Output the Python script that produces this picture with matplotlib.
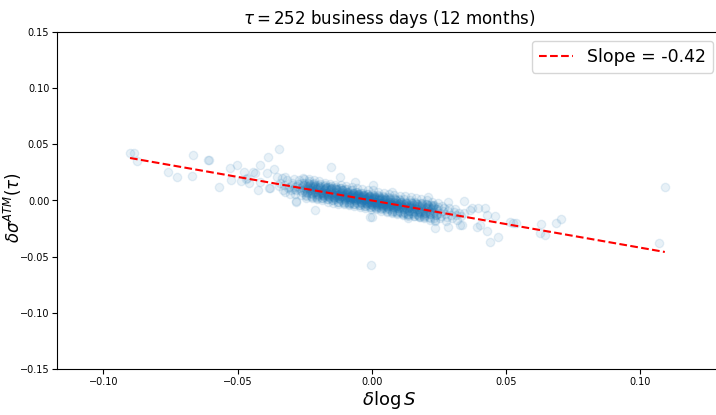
import matplotlib
matplotlib.use('Agg')
import matplotlib.pyplot as plt

# fitted regression of vol changes on log-return
slope = -0.42
intercept = 0.0

# isolated points away from the main cloud (dlogS, dsigma)
tail_pts = [
    (-0.0901, 0.0420), (-0.0886, 0.0420), (-0.0876, 0.0351), (-0.0666, 0.0405),
    (-0.0612, 0.0362), (-0.0608, 0.0357), (-0.0759, 0.0251), (-0.0725, 0.0206),
    (-0.0670, 0.0218), (-0.0571, 0.0117), (-0.0529, 0.0286), (-0.0504, 0.0316),
    (-0.0525, 0.0182), (-0.0489, 0.0171), (-0.0477, 0.0256), (-0.0444, 0.0256),
    (-0.0417, 0.0316), (-0.0386, 0.0390), (-0.0392, 0.0242), (-0.0365, 0.0280),
    (-0.0467, 0.0198), (-0.0469, 0.0195), (-0.0457, 0.0153), (-0.0426, 0.0093),
    (-0.0417, 0.0167), (-0.0384, 0.0114), (-0.0355, 0.0212), (-0.0436, 0.0242),
    (-0.0345, 0.0458), (-0.0284, -0.0004), (-0.0153, 0.0295), (-0.0119, 0.0212),
    (-0.0063, 0.0167), (-0.0212, -0.0085), (-0.0283, -0.0011), (-0.0380, 0.0109),
    (-0.0001, -0.0149), (0.0005, 0.0138), (0.0073, 0.0078), (0.0210, 0.0034),
    (0.0247, -0.0025), (0.0284, -0.0011), (0.0344, -0.0002), (0.0365, -0.0085),
    (0.0396, -0.0069), (0.0235, -0.0247), (0.0284, -0.0238), (0.0328, -0.0218),
    (0.0390, -0.0233), (-0.0007, -0.0144), (0.0135, -0.0158), (0.0179, -0.0144),
    (0.0371, -0.0069), (0.0421, -0.0069), (0.0458, -0.0135), (0.0427, -0.0129),
    (0.0402, -0.0218), (0.0427, -0.0269), (0.0470, -0.0322), (0.0439, -0.0367),
    (0.0514, -0.0189), (0.0536, -0.0198), (0.0628, -0.0209), (0.0626, -0.0292),
    (0.0644, -0.0307), (0.0685, -0.0203), (0.0703, -0.0167), (0.1070, -0.0381),
    (0.1091, 0.0117), (-0.0004, -0.0574), (0.0336, -0.0218), (0.0525, -0.0198),
]

# dense cloud around zero, read column by column
cloud_pts = [
    (-0.0341, 0.016), (-0.0330, 0.009), (-0.0336, 0.020), (-0.0346, 0.013),
    (-0.0327, 0.014), (-0.0316, 0.018), (-0.0322, 0.008), (-0.0312, 0.011), (-0.0325, 0.021),
    (-0.0307, 0.012), (-0.0296, 0.016), (-0.0302, 0.009), (-0.0292, 0.019), (-0.0305, 0.006), (-0.0299, 0.014),
    (-0.0287, 0.012), (-0.0276, 0.015), (-0.0282, 0.009), (-0.0272, 0.018), (-0.0285, 0.006), (-0.0279, 0.013),
    (-0.0289, 0.010),
    (-0.0267, 0.011), (-0.0256, 0.014), (-0.0262, 0.008), (-0.0252, 0.016), (-0.0265, 0.005), (-0.0259, 0.012),
    (-0.0269, 0.009), (-0.0254, 0.019),
    (-0.0247, 0.010), (-0.0236, 0.013), (-0.0242, 0.007), (-0.0232, 0.015), (-0.0245, 0.004), (-0.0239, 0.011),
    (-0.0249, 0.008), (-0.0234, 0.017), (-0.0243, 0.012), (-0.0231, 0.009),
    (-0.0227, 0.009), (-0.0216, 0.012), (-0.0222, 0.006), (-0.0212, 0.014), (-0.0225, 0.003), (-0.0219, 0.010),
    (-0.0229, 0.007), (-0.0214, 0.016), (-0.0223, 0.011), (-0.0211, 0.008), (-0.0220, 0.013),
    (-0.0207, 0.008), (-0.0196, 0.011), (-0.0202, 0.005), (-0.0192, 0.013), (-0.0205, 0.002), (-0.0199, 0.009),
    (-0.0209, 0.006), (-0.0194, 0.015), (-0.0203, 0.010), (-0.0191, 0.007), (-0.0200, 0.012), (-0.0206, 0.004),
    (-0.0187, 0.008), (-0.0176, 0.010), (-0.0182, 0.005), (-0.0172, 0.012), (-0.0185, 0.002), (-0.0179, 0.009),
    (-0.0189, 0.006), (-0.0174, 0.014), (-0.0183, 0.007), (-0.0171, 0.011), (-0.0180, 0.003), (-0.0186, 0.008),
    (-0.0177, 0.004),
    (-0.0167, 0.007), (-0.0156, 0.009), (-0.0162, 0.004), (-0.0152, 0.011), (-0.0165, 0.001), (-0.0159, 0.008),
    (-0.0169, 0.005), (-0.0154, 0.013), (-0.0163, 0.006), (-0.0151, 0.010), (-0.0160, 0.003), (-0.0166, 0.007),
    (-0.0157, 0.002), (-0.0168, 0.012),
    (-0.0147, 0.006), (-0.0136, 0.008), (-0.0142, 0.003), (-0.0132, 0.010), (-0.0145, 0.000), (-0.0139, 0.007),
    (-0.0149, 0.004), (-0.0134, 0.012), (-0.0143, 0.005), (-0.0131, 0.009), (-0.0140, 0.002), (-0.0146, 0.006),
    (-0.0137, 0.001), (-0.0148, 0.011), (-0.0135, 0.005),
    (-0.0127, 0.005), (-0.0116, 0.007), (-0.0122, 0.002), (-0.0112, 0.009), (-0.0125, -0.001), (-0.0119, 0.006),
    (-0.0129, 0.003), (-0.0114, 0.011), (-0.0123, 0.004), (-0.0111, 0.008), (-0.0120, 0.001), (-0.0126, 0.005),
    (-0.0117, 0.000), (-0.0128, 0.010), (-0.0115, 0.004), (-0.0121, 0.006),
    (-0.0107, 0.004), (-0.0096, 0.006), (-0.0102, 0.001), (-0.0092, 0.008), (-0.0105, -0.002), (-0.0099, 0.005),
    (-0.0109, 0.002), (-0.0094, 0.010), (-0.0103, 0.003), (-0.0091, 0.007), (-0.0100, 0.000), (-0.0106, 0.004),
    (-0.0097, -0.001), (-0.0108, 0.009), (-0.0095, 0.003), (-0.0101, 0.005), (-0.0093, 0.006),
    (-0.0087, 0.003), (-0.0076, 0.005), (-0.0082, 0.000), (-0.0072, 0.007), (-0.0085, -0.003), (-0.0079, 0.004),
    (-0.0089, 0.001), (-0.0074, 0.009), (-0.0083, 0.002), (-0.0071, 0.006), (-0.0080, -0.001), (-0.0086, 0.003),
    (-0.0077, -0.002), (-0.0088, 0.008), (-0.0075, 0.002), (-0.0081, 0.004), (-0.0073, 0.005), (-0.0084, 0.003),
    (-0.0067, 0.003), (-0.0056, 0.005), (-0.0062, 0.000), (-0.0052, 0.006), (-0.0065, -0.003), (-0.0059, 0.004),
    (-0.0069, 0.001), (-0.0054, 0.008), (-0.0063, 0.002), (-0.0051, 0.005), (-0.0060, -0.001), (-0.0066, 0.002),
    (-0.0057, -0.002), (-0.0068, 0.007), (-0.0055, 0.001), (-0.0061, 0.003), (-0.0053, 0.004), (-0.0064, 0.002),
    (-0.0047, 0.002), (-0.0036, 0.004), (-0.0042, -0.001), (-0.0032, 0.005), (-0.0045, -0.004), (-0.0039, 0.003),
    (-0.0049, 0.000), (-0.0034, 0.007), (-0.0043, 0.001), (-0.0031, 0.004), (-0.0040, -0.002), (-0.0046, 0.002),
    (-0.0037, -0.003), (-0.0048, 0.006), (-0.0035, 0.000), (-0.0041, 0.002), (-0.0033, 0.003), (-0.0044, 0.001),
    (-0.0027, 0.001), (-0.0016, 0.003), (-0.0022, -0.002), (-0.0012, 0.004), (-0.0025, -0.005), (-0.0019, 0.002),
    (-0.0029, -0.001), (-0.0014, 0.006), (-0.0023, 0.000), (-0.0011, 0.003), (-0.0020, -0.003), (-0.0026, 0.001),
    (-0.0017, -0.004), (-0.0028, 0.005), (-0.0015, -0.001), (-0.0021, 0.001), (-0.0013, 0.002), (-0.0024, 0.000),
    (-0.0007, 0.000), (0.0004, 0.002), (-0.0002, -0.003), (0.0008, 0.003), (-0.0005, -0.006), (0.0001, 0.001),
    (-0.0009, -0.002), (0.0006, 0.005), (-0.0003, -0.001), (0.0009, 0.002), (0.0000, -0.004), (-0.0006, 0.000),
    (0.0003, -0.005), (-0.0008, 0.004), (0.0005, -0.002), (-0.0001, 0.000), (0.0007, 0.001), (-0.0004, -0.001),
    (0.0013, -0.001), (0.0024, 0.001), (0.0018, -0.004), (0.0028, 0.002), (0.0015, -0.007), (0.0021, 0.000),
    (0.0011, -0.003), (0.0026, 0.004), (0.0017, -0.002), (0.0029, 0.001), (0.0020, -0.005), (0.0014, -0.001),
    (0.0023, -0.006), (0.0012, 0.003), (0.0025, -0.003), (0.0019, -0.001), (0.0027, 0.000), (0.0016, -0.002),
    (0.0033, -0.002), (0.0044, 0.000), (0.0038, -0.005), (0.0048, 0.001), (0.0035, -0.008), (0.0041, -0.001),
    (0.0031, -0.004), (0.0046, 0.003), (0.0037, -0.003), (0.0049, 0.000), (0.0040, -0.006), (0.0034, -0.002),
    (0.0043, -0.007), (0.0032, 0.002), (0.0045, -0.004), (0.0039, -0.002), (0.0047, -0.001),
    (0.0053, -0.003), (0.0064, -0.001), (0.0058, -0.006), (0.0068, 0.000), (0.0055, -0.009), (0.0061, -0.002),
    (0.0051, -0.005), (0.0066, 0.002), (0.0057, -0.004), (0.0069, -0.001), (0.0060, -0.007), (0.0054, -0.003),
    (0.0063, -0.008), (0.0052, 0.001), (0.0065, -0.005), (0.0059, -0.002),
    (0.0073, -0.003), (0.0084, -0.001), (0.0078, -0.006), (0.0088, 0.000), (0.0075, -0.010), (0.0081, -0.002),
    (0.0071, -0.005), (0.0086, 0.001), (0.0077, -0.004), (0.0089, -0.002), (0.0080, -0.008), (0.0074, -0.004),
    (0.0083, -0.009), (0.0072, -0.003), (0.0085, -0.007),
    (0.0093, -0.004), (0.0104, -0.002), (0.0098, -0.007), (0.0108, -0.001), (0.0095, -0.011), (0.0101, -0.003),
    (0.0091, -0.006), (0.0106, 0.000), (0.0097, -0.005), (0.0109, -0.003), (0.0100, -0.009), (0.0094, -0.005),
    (0.0103, -0.010), (0.0092, -0.004),
    (0.0113, -0.005), (0.0124, -0.003), (0.0118, -0.008), (0.0128, -0.002), (0.0115, -0.012), (0.0121, -0.004),
    (0.0111, -0.007), (0.0126, -0.001), (0.0117, -0.006), (0.0129, -0.004), (0.0120, -0.010), (0.0114, -0.006),
    (0.0123, -0.011),
    (0.0133, -0.006), (0.0144, -0.004), (0.0138, -0.009), (0.0148, -0.002), (0.0135, -0.013), (0.0141, -0.005),
    (0.0131, -0.008), (0.0146, -0.001), (0.0137, -0.007), (0.0149, -0.011), (0.0140, -0.006), (0.0134, -0.012),
    (0.0153, -0.007), (0.0164, -0.005), (0.0158, -0.010), (0.0168, -0.003), (0.0155, -0.014), (0.0161, -0.006),
    (0.0151, -0.009), (0.0166, -0.002), (0.0157, -0.008), (0.0169, -0.012), (0.0160, -0.007),
    (0.0173, -0.008), (0.0184, -0.005), (0.0178, -0.011), (0.0188, -0.003), (0.0175, -0.014), (0.0181, -0.007),
    (0.0171, -0.010), (0.0186, -0.002), (0.0177, -0.009), (0.0189, -0.012),
    (0.0193, -0.008), (0.0204, -0.006), (0.0198, -0.011), (0.0208, -0.004), (0.0195, -0.015), (0.0201, -0.007),
    (0.0191, -0.010), (0.0206, -0.003), (0.0197, -0.013),
    (0.0213, -0.009), (0.0224, -0.007), (0.0218, -0.012), (0.0228, -0.005), (0.0215, -0.016), (0.0221, -0.008),
    (0.0211, -0.011), (0.0226, -0.004),
    (0.0233, -0.010), (0.0244, -0.008), (0.0238, -0.013), (0.0248, -0.006), (0.0235, -0.017), (0.0241, -0.012),
    (0.0231, -0.004),
    (0.0253, -0.011), (0.0264, -0.009), (0.0258, -0.014), (0.0268, -0.007), (0.0255, -0.016), (0.0261, -0.005),
    (0.0273, -0.012), (0.0284, -0.009), (0.0278, -0.015), (0.0288, -0.007), (0.0275, -0.018),
    (0.0293, -0.013), (0.0304, -0.010), (0.0298, -0.016), (0.0308, -0.008),
    (0.0313, -0.013), (0.0324, -0.011), (0.0318, -0.017),
    (0.0333, -0.014), (0.0344, -0.011),
]

# second pass over the thick middle of the cloud
core_pts = [
    (-0.0256, 0.020), (-0.0245, 0.002), (-0.0252, 0.014), (-0.0242, 0.008), (-0.0259, 0.016),
    (-0.0247, 0.005), (-0.0250, 0.011), (-0.0254, 0.009), (-0.0243, 0.013),
    (-0.0236, 0.019), (-0.0225, 0.002), (-0.0232, 0.014), (-0.0222, 0.007), (-0.0239, 0.016),
    (-0.0227, 0.004), (-0.0230, 0.011), (-0.0234, 0.009), (-0.0223, 0.012),
    (-0.0216, 0.018), (-0.0205, 0.001), (-0.0212, 0.013), (-0.0202, 0.006), (-0.0219, 0.015),
    (-0.0207, 0.003), (-0.0210, 0.010), (-0.0214, 0.008), (-0.0203, 0.011),
    (-0.0196, 0.017), (-0.0185, 0.000), (-0.0192, 0.012), (-0.0182, 0.005), (-0.0199, 0.014),
    (-0.0187, 0.002), (-0.0190, 0.009), (-0.0194, 0.007), (-0.0183, 0.010),
    (-0.0176, 0.016), (-0.0165, -0.001), (-0.0172, 0.011), (-0.0162, 0.004), (-0.0179, 0.013),
    (-0.0167, 0.001), (-0.0170, 0.008), (-0.0174, 0.006), (-0.0163, 0.009),
    (-0.0156, 0.015), (-0.0145, -0.002), (-0.0152, 0.010), (-0.0142, 0.003), (-0.0159, 0.012),
    (-0.0147, 0.000), (-0.0150, 0.007), (-0.0154, 0.005), (-0.0143, 0.008),
    (-0.0136, 0.014), (-0.0125, -0.003), (-0.0132, 0.010), (-0.0122, 0.002), (-0.0139, 0.011),
    (-0.0127, -0.001), (-0.0130, 0.006), (-0.0134, 0.004), (-0.0123, 0.008),
    (-0.0116, 0.014), (-0.0105, -0.003), (-0.0112, 0.009), (-0.0102, 0.002), (-0.0119, 0.011),
    (-0.0107, -0.001), (-0.0110, 0.006), (-0.0114, 0.004), (-0.0103, 0.007),
    (-0.0096, 0.013), (-0.0085, -0.004), (-0.0092, 0.008), (-0.0082, 0.001), (-0.0099, 0.010),
    (-0.0087, -0.002), (-0.0090, 0.005), (-0.0094, 0.003), (-0.0083, 0.006),
    (-0.0076, 0.012), (-0.0065, -0.005), (-0.0072, 0.007), (-0.0062, 0.000), (-0.0079, 0.009),
    (-0.0067, -0.003), (-0.0070, 0.004), (-0.0074, 0.002), (-0.0063, 0.005),
    (-0.0056, 0.011), (-0.0045, -0.006), (-0.0052, 0.006), (-0.0042, -0.001), (-0.0059, 0.008),
    (-0.0047, -0.004), (-0.0050, 0.003), (-0.0054, 0.001), (-0.0043, 0.004),
    (-0.0036, 0.010), (-0.0025, -0.007), (-0.0032, 0.005), (-0.0022, -0.002), (-0.0039, 0.007),
    (-0.0027, -0.005), (-0.0030, 0.002), (-0.0034, 0.000), (-0.0023, 0.003),
    (-0.0016, 0.009), (-0.0005, -0.008), (-0.0012, 0.004), (-0.0002, -0.003), (-0.0019, 0.006),
    (-0.0007, -0.006), (-0.0010, 0.001), (-0.0014, -0.001), (-0.0003, 0.002),
    (0.0004, 0.009), (0.0015, -0.008), (0.0008, 0.004), (0.0018, -0.003), (0.0001, 0.006),
    (0.0013, -0.006), (0.0010, 0.001), (0.0006, -0.001), (0.0017, 0.002),
    (0.0024, 0.008), (0.0035, -0.009), (0.0028, 0.003), (0.0038, -0.004), (0.0021, 0.005),
    (0.0033, -0.007), (0.0030, 0.000), (0.0026, -0.002), (0.0037, 0.001),
    (0.0044, 0.007), (0.0055, -0.010), (0.0048, 0.002), (0.0058, -0.005), (0.0041, 0.004),
    (0.0053, -0.008), (0.0050, -0.001), (0.0046, -0.003), (0.0057, 0.000),
    (0.0064, 0.006), (0.0075, -0.011), (0.0068, 0.001), (0.0078, -0.006), (0.0061, 0.003),
    (0.0073, -0.009), (0.0070, -0.002), (0.0066, -0.004), (0.0077, -0.001),
    (0.0084, 0.005), (0.0095, -0.012), (0.0088, 0.000), (0.0098, -0.007), (0.0081, 0.002),
    (0.0093, -0.010), (0.0090, -0.003), (0.0086, -0.005), (0.0097, -0.002),
    (0.0104, 0.004), (0.0115, -0.013), (0.0108, -0.001), (0.0118, -0.008), (0.0101, 0.001),
    (0.0113, -0.011), (0.0110, -0.004), (0.0106, -0.006), (0.0117, -0.003),
    (0.0124, 0.004), (0.0135, -0.014), (0.0128, -0.002), (0.0138, -0.009), (0.0121, 0.001),
    (0.0133, -0.012), (0.0130, -0.005), (0.0126, -0.007), (0.0137, -0.004),
    (0.0144, 0.003), (0.0155, -0.014), (0.0148, -0.002), (0.0158, -0.009), (0.0141, 0.000),
    (0.0153, -0.012), (0.0150, -0.005), (0.0146, -0.007), (0.0157, -0.004),
    (0.0164, 0.002), (0.0175, -0.015), (0.0168, -0.003), (0.0178, -0.010), (0.0161, -0.001),
    (0.0173, -0.013), (0.0170, -0.006), (0.0166, -0.008), (0.0177, -0.005),
    (0.0184, 0.001), (0.0195, -0.016), (0.0188, -0.004), (0.0198, -0.011), (0.0181, -0.002),
    (0.0193, -0.014), (0.0190, -0.007), (0.0186, -0.009), (0.0197, -0.006),
    (0.0204, 0.000), (0.0215, -0.017), (0.0208, -0.005), (0.0218, -0.012), (0.0201, -0.003),
    (0.0213, -0.015), (0.0210, -0.008), (0.0206, -0.010), (0.0217, -0.007),
    (0.0224, -0.001), (0.0235, -0.018), (0.0228, -0.006), (0.0238, -0.013), (0.0221, -0.004),
    (0.0233, -0.016), (0.0230, -0.009), (0.0226, -0.011), (0.0237, -0.008),
]

pts = tail_pts + cloud_pts + core_pts
dlog_s = [p[0] for p in pts]
dsigma = [p[1] for p in pts]

fig = plt.figure(figsize=(7.16, 4.15), dpi=100)
ax = fig.add_axes([57 / 716, 46 / 415, 665 / 716, 337 / 415])

ax.scatter(dlog_s, dsigma, alpha=0.1)

x0, x1 = min(dlog_s), max(dlog_s)
ax.plot([x0, x1], [intercept + slope * x0, intercept + slope * x1], 'r--',
        label='Slope = %.2f' % slope)

ax.set_xlim(-0.1173, 0.1304)
ax.set_ylim(-0.15, 0.15)
ax.set_xticks([-0.10, -0.05, 0.00, 0.05, 0.10])
ax.set_yticks([-0.15, -0.10, -0.05, 0.00, 0.05, 0.10, 0.15])
ax.tick_params(labelsize=7, pad=2)

ax.set_xlabel(r'$\delta \log S$', fontsize=13, labelpad=2)
ax.set_ylabel(r'$\delta \sigma^{ATM}(\tau)$', fontsize=12)
ax.yaxis.set_label_coords(-0.049, 0.48)
ax.set_title(r'$\tau = $252 business days (12 months)', fontsize=12)
ax.legend(fontsize=12.5, loc='upper right')

fig.savefig('out.png', dpi=100)
